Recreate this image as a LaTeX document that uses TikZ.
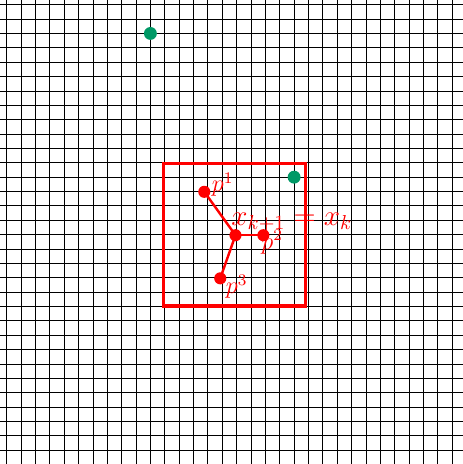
\documentclass[tikz,border=0pt]{standalone}
\usetikzlibrary{calc}
\definecolor{dotgreen}{RGB}{0,153,102}
\tikzset{
  gridline/.style={draw=black, line width=0.4pt},
  reddot/.style={circle, fill=red, inner sep=0pt, minimum size=6pt},
  greendot/.style={circle, fill=dotgreen, inner sep=0pt, minimum size=6.4pt},
  redline/.style={draw=red, line width=1.2pt},
  redbox/.style={draw=red, line width=1.6pt, inner sep=0pt, minimum size=2.475cm},
  plabel/.style={text=red, inner sep=0pt, anchor=base west, font=\large},
}
\begin{document}
\begin{tikzpicture}[x=0.25cm,y=-0.25cm]
\useasboundingbox (-0.466,-0.327) rectangle (31.75,31.96);
\clip (-0.466,-0.327) rectangle (31.75,31.96);
\foreach \i in {0,...,33} {
  \draw[gridline] (\i,-1) -- (\i,33);
  \draw[gridline] (-1,\i) -- (33,\i);
}
\node[redbox] (box) at (15.86,16.02) {};
\node[greendot] (g1) at (10,2) {};
\node[greendot] (g2) at (20,12) {};
\coordinate (c0) at (15.92,16.04);
\coordinate (q1) at (13.75,13.02);
\coordinate (q2) at (17.86,16.04);
\coordinate (q3) at (14.86,19.04);
\draw[redline] (q1) -- (c0);
\draw[redline] (q2) -- (c0);
\draw[redline] (q3) -- (c0);
\node[reddot] (c) at (c0) {};
\node[reddot] (p1) at (q1) {};
\node[reddot] (p2) at (q2) {};
\node[reddot] (p3) at (q3) {};
\node[plabel] (l1) at ($(p1.center)+(0.50,0.01)$) {$p^1$};
\node[plabel] (l2) at ($(p2.center)+(-0.16,1.00)$) {$p^2$};
\node[plabel] (l3) at ($(p3.center)+(0.37,1.09)$) {$p^3$};
\node[plabel, font=\Large] (lx) at ($(c.center)+(-0.31,-0.71)$) {$x_{k+1} = x_k$};
\end{tikzpicture}
\end{document}
